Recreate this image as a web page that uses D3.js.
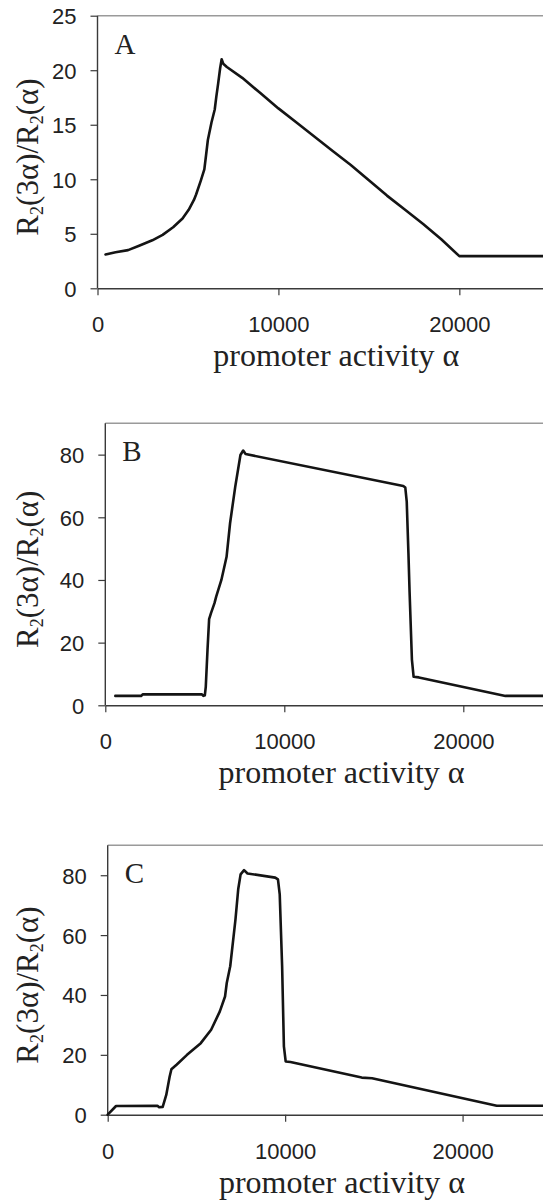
<!DOCTYPE html>
<html>
<head>
<meta charset="utf-8">
<script src="https://cdn.jsdelivr.net/npm/d3@7"></script>
<style>
  html, body { margin: 0; padding: 0; background: #fff; }
  svg { display: block; }
</style>
</head>
<body>
<svg id="fig" width="543" height="1201"></svg>
<script>
// Promoter activity α (x) and the ratio R2(3α)/R2(α) (y) for the three panels
const alphaA = [443, 1000, 1690, 2300, 3030, 3600, 4180, 4700, 5040, 5330, 5450, 5715, 5905, 6000, 6100, 6300, 6480, 6570, 6670, 6780, 6862, 6950, 7150, 8000, 9000, 10000, 11000, 12000, 13000, 14000, 15000, 16000, 17000, 18000, 19000, 20000, 25000];
const ratioA = [3.1, 3.3, 3.5, 3.9, 4.4, 4.9, 5.6, 6.4, 7.2, 8.1, 8.6, 9.9, 10.9, 12.2, 13.6, 15.2, 16.4, 17.6, 18.8, 20.2, 21.0, 20.6, 20.3, 19.3, 17.9, 16.5, 15.2, 13.9, 12.6, 11.3, 9.9, 8.5, 7.2, 5.9, 4.5, 2.95, 2.95];

const alphaB = [560, 2000, 2100, 5400, 5480, 5560, 5613, 5710, 5800, 5905, 6100, 6195, 6485, 6775, 6970, 7260, 7550, 7703, 7837, 16646, 16760, 16840, 16935, 17000, 17130, 17225, 17518, 22354, 25000];
const ratioB = [3.0, 3.0, 3.5, 3.5, 3.0, 3.2, 5.9, 17.7, 27.5, 29.4, 32.6, 34.7, 40.0, 47.4, 58.1, 69.8, 79.9, 81.3, 80.2, 70.0, 69.5, 65.0, 48.5, 36.0, 14.5, 9.1, 8.9, 3.0, 3.0];

const alphaC = [0, 470, 2800, 2900, 3100, 3300, 3490, 3590, 3880, 4470, 5245, 5830, 6320, 6613, 6710, 6905, 7200, 7355, 7490, 7685, 7880, 9440, 9595, 9695, 9830, 9930, 10030, 10300, 14315, 14900, 21925, 25000];
const ratioC = [0.0, 2.9, 3.0, 2.5, 2.6, 6.6, 12.7, 15.2, 16.7, 20.0, 23.9, 28.4, 34.5, 39.5, 44.0, 49.6, 65.2, 75.3, 80.3, 81.7, 80.6, 79.2, 78.6, 73.6, 49.6, 22.8, 17.8, 17.6, 12.4, 12.2, 3.0, 3.0];

// Axis ticks and labels
const xTicks = [0, 10000, 20000];
const yTicksA = [0, 5, 10, 15, 20, 25];
const yTicksBC = [0, 20, 40, 60, 80];
const panelLetters = ["A", "B", "C"];
const xTitle = "promoter activity α";

const panels = [
  { letter: panelLetters[0], alpha: alphaA, ratio: ratioA, yMax: 25, yTicks: yTicksA,
    left: 97.5, right: 549.8, top: 15.7, bottom: 288.3 },
  { letter: panelLetters[1], alpha: alphaB, ratio: ratioB, yMax: 90, yTicks: yTicksBC,
    left: 105.3, right: 552.8, top: 423.3, bottom: 705.3 },
  { letter: panelLetters[2], alpha: alphaC, ratio: ratioC, yMax: 90, yTicks: yTicksBC,
    left: 107.7, right: 551.3, top: 845.3, bottom: 1114.7 }
];

const svg = d3.select("#fig");
svg.append("rect").attr("width", 543).attr("height", 1201).attr("fill", "#fff");

const sansFont = "Liberation Sans, Arial, Helvetica, sans-serif";
const serifFont = "Liberation Serif, 'Times New Roman', Times, serif";
const axisColor = "#3a3a3a";

panels.forEach(p => {
  const x = d3.scaleLinear().domain([0, 25000]).range([p.left, p.right]);
  const y = d3.scaleLinear().domain([0, p.yMax]).range([p.bottom, p.top]);
  const g = svg.append("g");

  // top frame line
  g.append("line")
    .attr("x1", p.left).attr("x2", p.right)
    .attr("y1", p.top).attr("y2", p.top)
    .attr("stroke", "#9a9a9a").attr("stroke-width", 1.6);

  // x axis
  const xAxis = d3.axisBottom(x).tickValues(xTicks).tickSize(7).tickSizeOuter(0).tickFormat(d3.format("d"));
  const gx = g.append("g").attr("transform", `translate(0,${p.bottom})`).call(xAxis);
  gx.select(".domain").attr("stroke", axisColor).attr("stroke-width", 1.4);
  gx.selectAll(".tick line").attr("stroke", axisColor).attr("stroke-width", 1.2);
  gx.selectAll(".tick text")
    .attr("y", 44).attr("dy", 0)
    .attr("fill", "#222")
    .style("font-family", sansFont).style("font-size", "22px");

  // y axis
  const yAxis = d3.axisLeft(y).tickValues(p.yTicks).tickSize(7).tickSizeOuter(0).tickFormat(d3.format("d"));
  const gy = g.append("g").attr("transform", `translate(${p.left},0)`).call(yAxis);
  gy.select(".domain").attr("stroke", axisColor).attr("stroke-width", 1.4)
    .attr("d", `M0,${p.bottom}V${p.top}`);
  gy.selectAll(".tick line").attr("stroke", axisColor).attr("stroke-width", 1.2);
  gy.selectAll(".tick text")
    .attr("x", -21).attr("dy", "0.36em")
    .attr("fill", "#222")
    .style("font-family", sansFont).style("font-size", "22px");

  // curve
  const pts = p.alpha.map((a, i) => [a, p.ratio[i]]);
  g.append("path")
    .datum(pts)
    .attr("fill", "none")
    .attr("stroke", "#141414")
    .attr("stroke-width", 2.6)
    .attr("stroke-linejoin", "round")
    .attr("stroke-linecap", "round")
    .attr("d", d3.line().x(d => x(d[0])).y(d => y(d[1])));

  // panel letter
  g.append("text")
    .attr("x", p.left + 17).attr("y", p.top + 38)
    .attr("fill", "#222")
    .style("font-family", serifFont).style("font-size", "29px")
    .text(p.letter);

  // x title
  g.append("text")
    .attr("x", x(13200)).attr("y", p.bottom + 78)
    .attr("text-anchor", "middle")
    .attr("fill", "#222")
    .style("font-family", serifFont).style("font-size", "32px")
    .text(xTitle);

  // y title: R2(3α)/R2(α)
  const midY = (p.top + p.bottom) / 2 + 5;
  const yt = g.append("text")
    .attr("transform", `translate(38,${midY}) rotate(-90)`)
    .attr("text-anchor", "middle")
    .attr("fill", "#222")
    .style("font-family", serifFont).style("font-size", "31px");
  yt.append("tspan").text("R");
  yt.append("tspan").attr("dy", 5).style("font-size", "18px").text("2");
  yt.append("tspan").attr("dy", -5).text("(3α)/R");
  yt.append("tspan").attr("dy", 5).style("font-size", "18px").text("2");
  yt.append("tspan").attr("dy", -5).text("(α)");
});
</script>
</body>
</html>
